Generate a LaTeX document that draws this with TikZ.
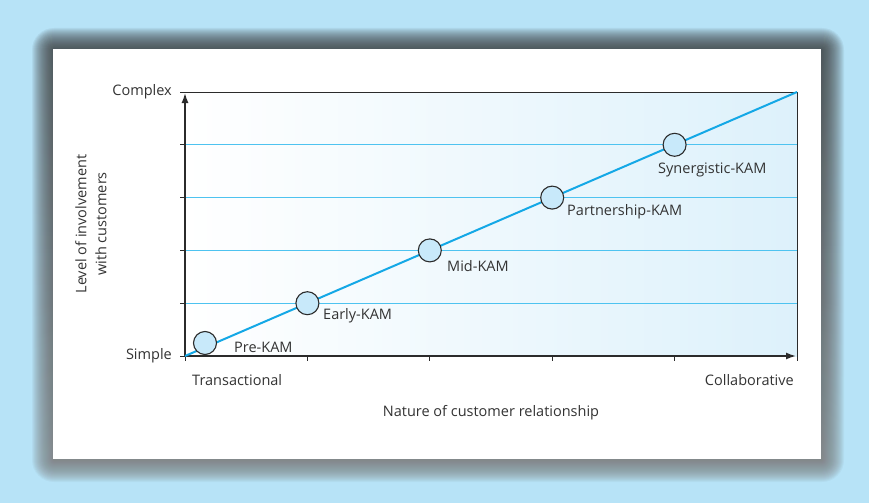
\documentclass[tikz,border=0pt]{standalone}
\usepackage{fontspec}
\setmainfont{Open Sans}
\usetikzlibrary{arrows.meta}

\definecolor{backdrop}{HTML}{B7E3F7}
\definecolor{shade}{HTML}{7A7674}
\definecolor{axis}{HTML}{2B2B2B}
\definecolor{txt}{HTML}{333333}
\definecolor{grid}{HTML}{4EC3F0}
\definecolor{trend}{HTML}{14A8E6}
\definecolor{dot}{HTML}{C8E9FA}
\definecolor{plotright}{HTML}{DDF1FB}

\begin{document}
\begin{tikzpicture}[x=1pt,y=-1pt]
        \tikzstyle{every node}=[font=\fontsize{14.5}{20}\selectfont,text=txt,inner sep=0pt]
        \tikzstyle{stage}=[draw=axis,circle,fill=dot,minimum size=23pt,line width=1.1pt]
        \tikzstyle{axisline}=[draw=axis,line width=1.5pt]
        \tikzstyle{tick}=[draw=axis,line width=0.8pt]

            % page and panel
            \fill[backdrop] (0,0) rectangle (869,503);
            \useasboundingbox (0,0) rectangle (869,503);
            \foreach \r in {1,...,22}
                \fill[shade,opacity=0.035,rounded corners=\r pt] (54-\r,50-\r) rectangle (822+\r,460+\r);
            \fill[white] (53,49) rectangle (821,459);

            % plot area
            \shade[left color=white,right color=plotright] (185,92) rectangle (797,356);
            \foreach \y in {303.2,250.4,197.6,144.8} {
                \draw[grid,line width=1.1pt] (185,\y) -- (797,\y);
                \draw[tick] (180,\y) -- (185,\y);
            }
            \foreach \x in {307.4,429.8,552.2,674.6}
                \draw[tick] (\x,356) -- (\x,361);
            \draw[tick] (180,92) -- (797,92) -- (797,361);
            \draw[tick] (180,356) -- (185,356) -- (185,361);
            \draw[axisline,-{Latex[length=10pt,width=7pt]}] (185,356) -- (185,93);
            \draw[axisline,-{Latex[length=10pt,width=7pt]}] (185,356) -- (796,356);

            % stages
            \coordinate (o) at (185,356);
            \coordinate (e) at (797,92);
            \draw[trend,line width=2pt] (o) -- (e);
            \node[stage] (pre) at (205,343) {};
            \node[stage] (early) at (307.4,303.2) {};
            \node[stage] (mid) at (429.8,250.4) {};
            \node[stage] (partner) at (552.2,197.6) {};
            \node[stage] (syner) at (674.6,144.8) {};

            \node[anchor=west] (prelab) at (234,347) {Pre-KAM};
            \node[anchor=west] (earlylab) at (323,316) {Early-KAM};
            \node[anchor=west] (midlab) at (447,266) {Mid-KAM};
            \node[anchor=west] (partnerlab) at (567,212) {Partnership-KAM};
            \node[anchor=west] (synerlab) at (658,170) {Synergistic-KAM};

            % axis labels
            \node[anchor=east] (complex) at (172,92) {Complex};
            \node[anchor=east] (simple) at (172,356) {Simple};
            \node[anchor=west] (trans) at (192,380) {Transactional};
            \node[anchor=east] (collab) at (794,380) {Collaborative};
            \node (xlab) at (491,413) {Nature of customer relationship};
            \node[rotate=90,align=center] (ylab) at (91,224) {Level of involvement\\with customers};
        \end{tikzpicture}
\end{document}
